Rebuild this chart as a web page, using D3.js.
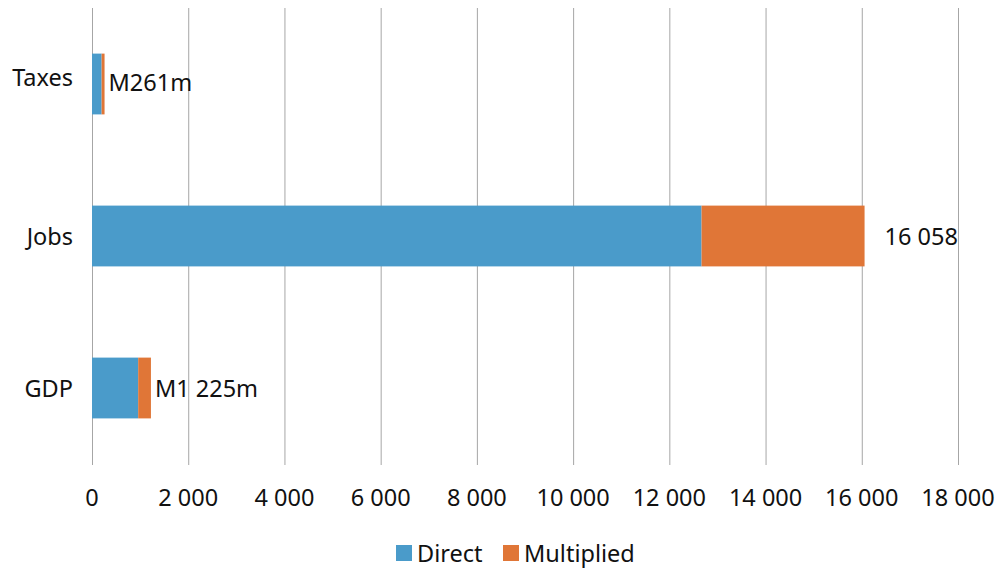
<!DOCTYPE html>
<html>
<head>
<meta charset="utf-8">
<script src="https://cdn.jsdelivr.net/npm/d3@7"></script>
<style>
  html, body { margin: 0; padding: 0; background: #ffffff; }
  svg { display: block; font-family: "Noto Sans", "Open Sans", sans-serif; }
</style>
</head>
<body>
<svg id="chart" width="998" height="568"></svg>
<script>
// Economic contribution: direct and multiplied effects
const categories = ["Taxes", "Jobs", "GDP"];
const directValues = [200, 12670, 960];
const multipliedValues = [61, 3388, 265];
const totalLabels = ["M261m", "16 058", "M1 225m"];
const tickValues = [0, 2000, 4000, 6000, 8000, 10000, 12000, 14000, 16000, 18000];
const seriesNames = ["Direct", "Multiplied"];
const seriesColors = ["#4a9bca", "#e07637"];

const svg = d3.select("#chart");
const margin = { left: 92, right: 40, top: 8, bottom: 104 };
const W = 998, H = 568;
const FS = 23.5;

const x = d3.scaleLinear().domain([0, 18000]).range([margin.left, 958]);
const y = d3.scaleBand().domain(categories)
  .range([margin.top, H - margin.bottom])
  .paddingInner(0.6).paddingOuter(0.3);

const fmt = v => d3.format(",")(v).replace(/,/g, " ");

// vertical gridlines
svg.append("g").selectAll("line").data(tickValues).join("line")
  .attr("x1", d => x(d) + 0.5).attr("x2", d => x(d) + 0.5)
  .attr("y1", margin.top).attr("y2", H - margin.bottom + 1)
  .attr("stroke", "#a6a6a6").attr("stroke-width", 1);

// tick labels
svg.append("g").selectAll("text").data(tickValues).join("text")
  .attr("x", d => x(d)).attr("y", 497)
  .attr("text-anchor", "middle").attr("dominant-baseline", "central")
  .attr("font-size", FS).attr("fill", "#111")
  .text(fmt);

// category labels (the top one sits a little above its bar)
svg.append("g").selectAll("text").data(categories).join("text")
  .attr("x", 73).attr("y", (d, i) => y(d) + y.bandwidth() / 2 - (i === 0 ? 7 : 0))
  .attr("text-anchor", "end").attr("dominant-baseline", "central")
  .attr("font-size", FS).attr("fill", "#111")
  .text(d => d);

// stacked bars
const rows = categories.map((c, i) => ({ cat: c, direct: directValues[i], multiplied: multipliedValues[i] }));
const stack = d3.stack().keys(["direct", "multiplied"])(rows);
svg.append("g").selectAll("g").data(stack).join("g")
  .attr("fill", (d, i) => seriesColors[i])
  .selectAll("rect").data(d => d).join("rect")
  .attr("x", d => x(d[0]))
  .attr("width", d => x(d[1]) - x(d[0]))
  .attr("y", d => y(d.data.cat))
  .attr("height", y.bandwidth());

// total labels
svg.append("g").selectAll("text").data(rows).join("text")
  .attr("x", d => x(d.direct + d.multiplied) + (d.cat === "Jobs" ? 20 : 4))
  .attr("y", d => y(d.cat) + y.bandwidth() / 2 - (d.cat === "Taxes" ? 2 : 0))
  .attr("dominant-baseline", "central")
  .attr("font-size", FS).attr("fill", "#111")
  .text((d, i) => totalLabels[i]);

// legend
const legend = svg.append("g");
const legendX = [396, 503];
seriesNames.forEach((name, i) => {
  legend.append("rect").attr("x", legendX[i]).attr("y", 545)
    .attr("width", 16).attr("height", 16).attr("fill", seriesColors[i]);
  legend.append("text").attr("x", legendX[i] + 21).attr("y", 553)
    .attr("dominant-baseline", "central")
    .attr("font-size", FS).attr("fill", "#111").text(name);
});
</script>
</body>
</html>
